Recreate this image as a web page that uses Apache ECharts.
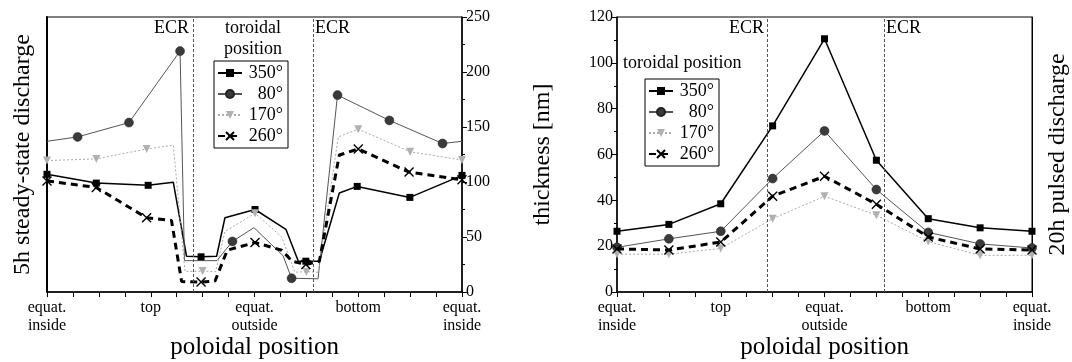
<!DOCTYPE html>
<html>
<head>
<meta charset="utf-8">
<script src="https://cdn.jsdelivr.net/npm/echarts@6/dist/echarts.min.js"></script>
<style>
  html, body { margin: 0; padding: 0; background: #fff; }
  #chart { width: 1072px; height: 362px; }
</style>
</head>
<body>
<div id="chart"></div>
<script>
// poloidal position axis: 0..16, named positions every 4
const xTickPos = [0, 4, 8, 12, 16];
const xTickText = ['equat.\ninside', 'top', 'equat.\noutside', 'bottom', 'equat.\ninside'];
const names = ['350°', '80°', '170°', '260°'];

// ECR boundaries (poloidal position units)
const ecrSteady = [5.63, 10.25];
const ecrPulsed = [5.78, 10.29];

// 5h steady-state discharge: polyline vertices [pos, value], markers at listed indices
const steady350 = [[0, 107], [1.9, 99], [3.9, 97], [4.87, 99.7], [5.38, 32.5], [5.94, 32], [6.54, 32.5], [6.86, 67.5], [8.02, 75], [9.21, 57], [9.69, 28], [9.98, 28], [10.5, 28], [11.27, 90], [11.96, 96], [13.99, 86], [16, 106]];
const steady350Marks = [0, 1, 2, 5, 8, 11, 14, 15, 16];
const steady80 = [[0, 137], [1.18, 141], [3.16, 154], [5.13, 219], [5.3, 28.5], [6.55, 28.5], [7.15, 46], [7.98, 58.5], [9.1, 33], [9.43, 12.5], [10.45, 12], [11.2, 179], [13.2, 156], [15.25, 135], [16, 137]];
const steady80Marks = [1, 2, 3, 6, 9, 11, 12, 13];
const steady170 = [[0, 119.5], [1.9, 121], [3.84, 130], [4.87, 133.5], [5.32, 18.5], [6.0, 19], [6.5, 18.5], [6.86, 55], [8.02, 71.5], [9.05, 50], [9.56, 18], [10, 18.5], [10.46, 18], [11.23, 141], [12, 148], [14, 127.5], [16, 120]];
const steady170Marks = [0, 1, 2, 5, 8, 11, 14, 15, 16];
const steady260 = [[0, 101], [1.9, 95], [3.84, 67.5], [4.8, 65], [5.19, 9.5], [5.94, 9], [6.48, 10], [6.95, 38], [8.02, 45], [9.05, 38], [9.45, 28], [9.98, 25], [10.5, 28], [11.27, 124.5], [12, 130], [13.96, 109], [16, 102]];
const steady260Marks = [0, 1, 2, 5, 8, 11, 14, 15, 16];

// 20h pulsed discharge: thickness [nm] at positions 0,2,...,16
const pulsedPos = [0, 2, 4, 6, 8, 10, 12, 14, 16];
const pulsed350 = [26.5, 29.5, 38.5, 72.5, 110.5, 57.5, 32, 28, 26.5];
const pulsed80 = [19.5, 23.2, 26.5, 49.5, 70.3, 44.7, 26, 21, 19.2];
const pulsed170 = [16.5, 16.5, 19, 32, 41.8, 33.5, 22, 16, 16];
const pulsed260 = [18.8, 18.3, 21.8, 41.8, 50.5, 38.3, 24, 18.8, 18.3];

const FONT = '"Liberation Serif", "DejaVu Serif", serif';
const crossPath = 'path://M0,0L10,10M10,0L0,10';

const styles = {
  '350°': { symbol: 'rect', symbolSize: 7, line: { color: '#000', width: 1.5, type: 'solid' }, item: { color: '#000' } },
  '80°': { symbol: 'circle', symbolSize: 9, line: { color: '#555', width: 1, type: 'solid' }, item: { color: '#3a3a3a', borderColor: '#222', borderWidth: 0.5 } },
  '170°': { symbol: 'triangle', symbolSize: 8, rotate: 180, line: { color: '#aaa', width: 1, type: [2, 2] }, item: { color: '#b0b0b0' } },
  '260°': { symbol: crossPath, symbolSize: 9, line: { color: '#000', width: 3, type: [7, 5] }, item: { color: 'transparent', borderColor: '#000', borderWidth: 1.4 } }
};

function withMarks(path, marks) {
  return path.map((p, i) => marks.includes(i) ? p : { value: p, symbol: 'none' });
}

function makeSeries(name, data, gridIdx, yIdx, ecr) {
  const s = styles[name];
  const ser = {
    name: name,
    type: 'line',
    xAxisIndex: gridIdx,
    yAxisIndex: yIdx,
    data: data,
    symbol: s.symbol,
    symbolSize: s.symbolSize,
    symbolRotate: s.rotate || 0,
    showAllSymbol: true,
    lineStyle: s.line,
    itemStyle: s.item,
    animation: false,
    z: name === '260°' ? 4 : 3
  };
  if (ecr) {
    ser.markLine = {
      silent: true,
      symbol: 'none',
      label: { show: false },
      lineStyle: { color: '#555', width: 1, type: [3, 2] },
      data: ecr.map(v => ({ xAxis: v }))
    };
  }
  return ser;
}

const xAxisBase = (gridIndex) => ({
  type: 'value',
  gridIndex: gridIndex,
  min: 0,
  max: 16,
  interval: 1,
  name: 'poloidal position',
  nameLocation: 'middle',
  nameGap: 43,
  nameMoveOverlap: false,
  nameTextStyle: { fontFamily: FONT, fontSize: 25, color: '#000' },
  axisLine: { lineStyle: { color: '#000', width: 1.5 } },
  axisTick: { length: 5, lineStyle: { color: '#000' } },
  splitLine: { show: false },
  axisLabel: {
    fontFamily: FONT, fontSize: 16, color: '#000', lineHeight: 18, margin: 7,
    formatter: (v) => {
      const i = xTickPos.indexOf(v);
      return i >= 0 ? xTickText[i] : '';
    }
  }
});

const textEl = (text, x, y, align) => ({
  type: 'text', x: x, y: y,
  style: { text: text, font: '18px ' + FONT, fill: '#000', textAlign: align || 'left', textVerticalAlign: 'middle' }
});

const chart = echarts.init(document.getElementById('chart'), null, { renderer: 'canvas' });

const steadySeries = [
  makeSeries('350°', withMarks(steady350, steady350Marks), 0, 1, ecrSteady),
  makeSeries('80°', withMarks(steady80, steady80Marks), 0, 1),
  makeSeries('170°', withMarks(steady170, steady170Marks), 0, 1),
  makeSeries('260°', withMarks(steady260, steady260Marks), 0, 1)
];
const zipPulsed = (vals) => pulsedPos.map((p, i) => [p, vals[i]]);
const pulsedSeries = [
  makeSeries('350°', zipPulsed(pulsed350), 1, 2, ecrPulsed),
  makeSeries('80°', zipPulsed(pulsed80), 1, 2),
  makeSeries('170°', zipPulsed(pulsed170), 1, 2),
  makeSeries('260°', zipPulsed(pulsed260), 1, 2)
];

const legendBase = {
  orient: 'vertical',
  data: names,
  borderColor: '#000',
  borderWidth: 1,
  padding: [3, 5, 3, 3],
  itemGap: 3,
  itemWidth: 24,
  itemHeight: 10,
  selectedMode: false,
  formatter: (name) => '{r|' + name + '}',
  textStyle: {
    fontFamily: FONT, fontSize: 18, color: '#000',
    rich: { r: { width: 36, align: 'right', fontFamily: FONT, fontSize: 18, color: '#000' } }
  }
};

chart.setOption({
  backgroundColor: '#fff',
  animation: false,
  grid: [
    { left: 47, top: 17, width: 415, height: 275, outerBoundsMode: 'none', containLabel: false, show: true, borderColor: '#000', borderWidth: 1, backgroundColor: 'transparent' },
    { left: 617, top: 17, width: 415, height: 275, outerBoundsMode: 'none', containLabel: false, show: true, borderColor: '#000', borderWidth: 1, backgroundColor: 'transparent' }
  ],
  xAxis: [xAxisBase(0), xAxisBase(1)],
  yAxis: [
    {
      type: 'value', gridIndex: 0, position: 'left', min: 0, max: 250,
      name: '5h steady-state discharge', nameLocation: 'middle', nameRotate: 90, nameGap: 12,
      nameMoveOverlap: false,
      nameTextStyle: { fontFamily: FONT, fontSize: 24, color: '#000' },
      axisLine: { show: true, lineStyle: { color: '#000', width: 2 } },
      axisTick: { show: false }, axisLabel: { show: false }, splitLine: { show: false }
    },
    {
      type: 'value', gridIndex: 0, position: 'right', min: 0, max: 250, interval: 50,
      axisLine: { show: true, lineStyle: { color: '#000', width: 1.5 } },
      axisTick: { show: true, length: 5, lineStyle: { color: '#000' } },
      minorTick: { show: true, splitNumber: 2, length: 3, lineStyle: { color: '#000' } },
      axisLabel: { fontFamily: FONT, fontSize: 16, color: '#000', margin: 4 },
      splitLine: { show: false }
    },
    {
      type: 'value', gridIndex: 1, position: 'left', min: 0, max: 120, interval: 20,
      name: 'thickness [nm]', nameLocation: 'middle', nameRotate: 90, nameGap: 62,
      nameMoveOverlap: false,
      nameTextStyle: { fontFamily: FONT, fontSize: 24, color: '#000' },
      axisLine: { show: true, lineStyle: { color: '#000', width: 1.5 } },
      axisTick: { show: true, length: 5, lineStyle: { color: '#000' } },
      minorTick: { show: true, splitNumber: 2, length: 3, lineStyle: { color: '#000' } },
      axisLabel: { fontFamily: FONT, fontSize: 16, color: '#000', margin: 4 },
      splitLine: { show: false }
    },
    {
      type: 'value', gridIndex: 1, position: 'right', min: 0, max: 120,
      name: '20h pulsed discharge', nameLocation: 'middle', nameRotate: 90, nameGap: 14,
      nameMoveOverlap: false,
      nameTextStyle: { fontFamily: FONT, fontSize: 24, color: '#000' },
      axisLine: { show: true, lineStyle: { color: '#000', width: 1 } },
      axisTick: { show: false }, axisLabel: { show: false }, splitLine: { show: false }
    }
  ],
  legend: [
    Object.assign({}, legendBase, { left: 214, top: 61 }),
    Object.assign({}, legendBase, { left: 645, top: 79 })
  ],
  graphic: [
    textEl('ECR', 189, 28, 'right'),
    textEl('ECR', 315, 28, 'left'),
    textEl('toroidal', 253, 28, 'center'),
    textEl('position', 253, 49, 'center'),
    textEl('ECR', 764, 28, 'right'),
    textEl('ECR', 886, 28, 'left'),
    textEl('toroidal position', 623, 63, 'left')
  ],
  series: steadySeries.concat(pulsedSeries)
});
</script>
</body>
</html>
